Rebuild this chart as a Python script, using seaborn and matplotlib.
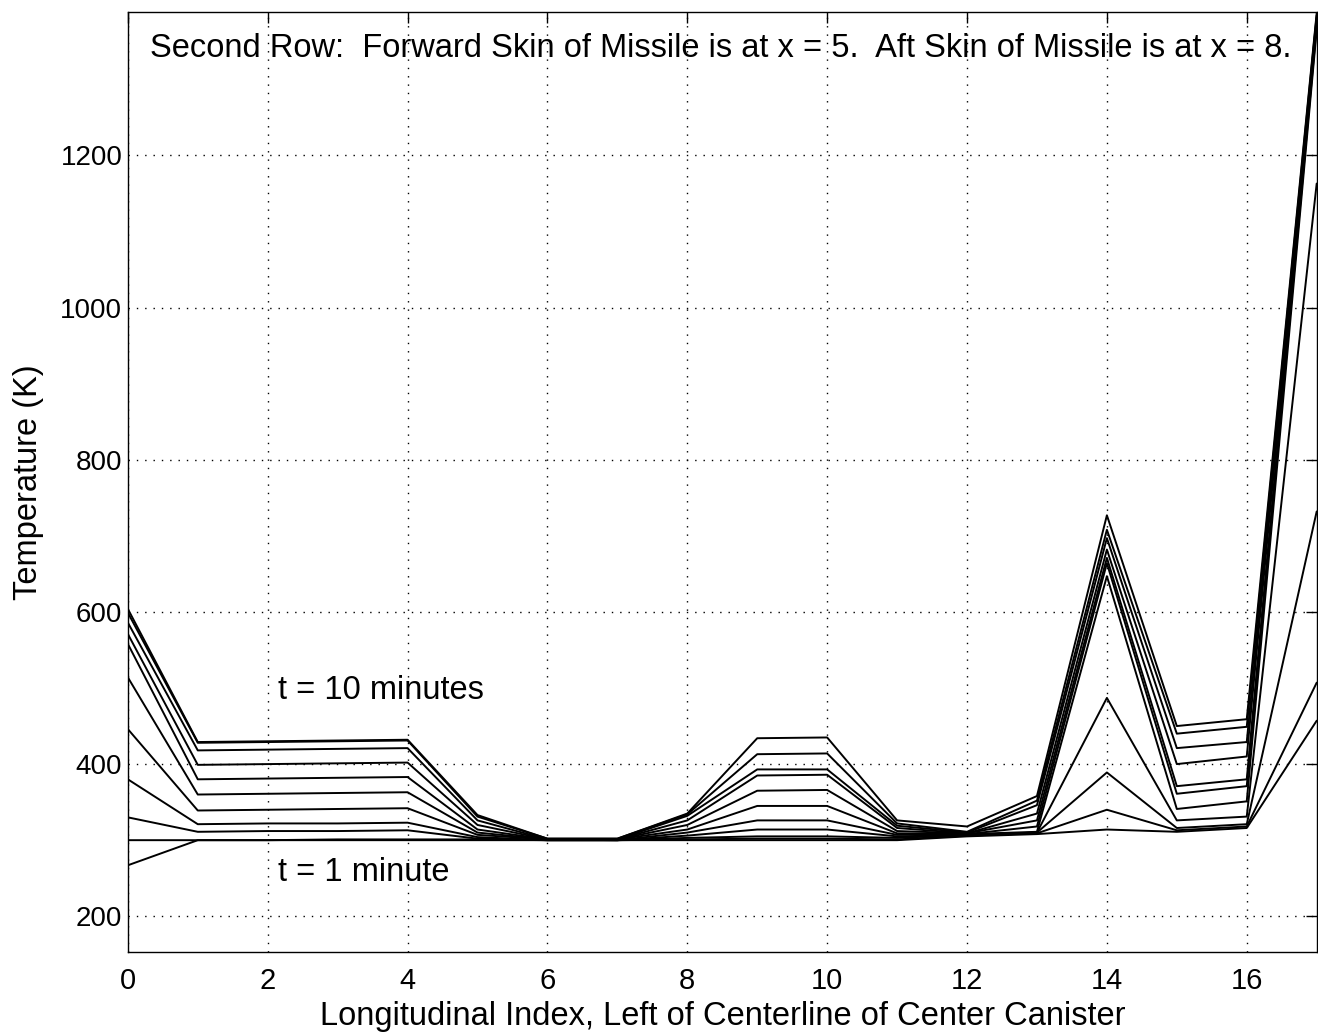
import matplotlib
matplotlib.use("Agg")
import matplotlib.pyplot as plt
import seaborn as sns
import pandas as pd
import numpy as np

# Longitudinal index positions
x_index = list(range(18))

# Temperature curves (K), one list per time snapshot (t = 1 ... latest), values at x = 0..17
t01 = [267, 300, 300, 300, 300, 300, 300, 300, 300, 300, 300, 300, 305, 308, 314, 311, 316, 457]
t02 = [300, 300, 300, 301, 301, 301, 300, 300, 301, 302, 302, 301, 306, 309, 340, 313, 318, 507]
t03 = [330, 311, 312, 312, 313, 302, 300, 300, 303, 305, 305, 303, 307, 310, 389, 316, 321, 732]
t04 = [380, 321, 322, 322, 323, 304, 300, 300, 306, 314, 314, 305, 307, 310, 487, 326, 331, 1163]
t05 = [446, 339, 340, 341, 342, 307, 301, 300, 310, 326, 326, 307, 308, 311, 647, 341, 351, 1365]
t06 = [514, 360, 361, 362, 363, 310, 301, 301, 314, 345, 345, 309, 308, 318, 664, 361, 371, 1370]
t07 = [558, 380, 381, 382, 383, 314, 301, 301, 320, 365, 366, 312, 309, 326, 671, 371, 380, 1375]
t08 = [571, 399, 400, 401, 402, 320, 301, 301, 326, 385, 386, 316, 309, 335, 682, 400, 410, 1378]
t09 = [586, 418, 419, 420, 421, 326, 301, 301, 332, 393, 393, 319, 310, 346, 697, 421, 429, 1381]
t10 = [599, 428, 429, 430, 431, 331, 302, 302, 334, 413, 414, 322, 311, 352, 708, 440, 449, 1384]
t11 = [604, 429, 430, 431, 432, 333, 302, 302, 335, 434, 435, 326, 318, 358, 727, 450, 459, 1387]

series = [t01, t02, t03, t04, t05, t06, t07, t08, t09, t10, t11]
series_names = [f"s{i:02d}" for i in range(len(series))]

x_ticks = [0, 2, 4, 6, 8, 10, 12, 14, 16]
y_ticks = [200, 400, 600, 800, 1000, 1200]

title_text = "Second Row:  Forward Skin of Missile is at x = 5.  Aft Skin of Missile is at x = 8."
x_label = "Longitudinal Index, Left of Centerline of Center Canister"
y_label = "Temperature (K)"
label_late = "t = 10 minutes"
label_early = "t = 1 minute"

rows = []
for name, vals in zip(series_names, series):
    for xi, v in zip(x_index, vals):
        rows.append({"x": xi, "T": v, "series": name})
df = pd.DataFrame(rows)

sns.set_theme(style="white")
plt.rcParams['font.family'] = ['Liberation Sans', 'DejaVu Sans']

fig = plt.figure(figsize=(13.18, 10.32), dpi=100)
ax = fig.add_axes([0.097, 0.0775, 0.902, 0.9105])

sns.lineplot(data=df, x="x", y="T", hue="series", palette=["black"] * len(series),
             estimator=None, legend=False, linewidth=1.4, ax=ax, sort=False)

ax.set_xlim(0, 17)
ax.set_ylim(153, 1388)
ax.set_xticks(x_ticks)
ax.set_yticks(y_ticks)
ax.set_xticklabels([str(v) for v in x_ticks])
ax.set_yticklabels([str(v) for v in y_ticks])
ax.grid(True, linestyle=(0, (1, 5)), color="black", linewidth=1.0)
ax.tick_params(direction="in", length=8, width=1, top=True, right=True,
               colors="black")
ax.tick_params(axis="x", labelsize=21, pad=11)
ax.tick_params(axis="y", labelsize=20, pad=4)
for s in ax.spines.values():
    s.set_color("black")
    s.set_linewidth(1.0)

ax.set_xlabel(x_label, fontsize=23.5, color="black", labelpad=4)
ax.set_ylabel(y_label, fontsize=23.5, color="black", labelpad=12)

ax.text(0.31, 1340, title_text, fontsize=23.5, color="black", va="center", ha="left")
ax.text(2.15, 497, label_late, fontsize=23.5, color="black", va="center", ha="left")
ax.text(2.15, 258, label_early, fontsize=23.5, color="black", va="center", ha="left")

fig.savefig("out.png", dpi=100, facecolor="white")
